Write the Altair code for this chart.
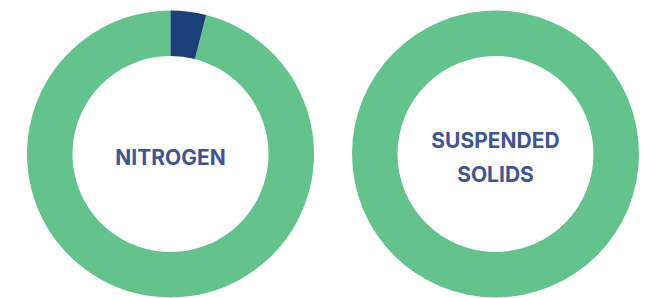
import altair as alt
import pandas as pd

# Data
categories = ["Remaining", "Removed"]
nitrogen_values = [96, 4]
solids_values = [100, 0]
labels = ["NITROGEN", ["SUSPENDED", "SOLIDS"]]

GREEN = "#64c28c"
BLUE = "#1b3f78"
TEXT = "#3f5591"

def donut(values, label, width, cx, ty):
    df = pd.DataFrame({"category": categories, "value": values,
                       "order": [1, 0]})
    arcs = alt.Chart(df).mark_arc(innerRadius=98, outerRadius=143.5, stroke=None).encode(
        theta=alt.Theta("value:Q", stack=True),
        order=alt.Order("order:Q"),
        color=alt.Color("category:N",
                        scale=alt.Scale(domain=categories, range=[GREEN, BLUE]),
                        legend=None),
        x=alt.value(cx),
        y=alt.value(146),
    )
    text = alt.Chart(pd.DataFrame({"t": [label]})).mark_text(
        font="Inter", fontWeight="bold", fontSize=21, color=TEXT,
        lineHeight=34, align="center", baseline="middle",
    ).encode(
        text="t",
        x=alt.value(cx),
        y=alt.value(ty),
    )
    return alt.layer(arcs, text).properties(width=width, height=280)

chart = alt.hconcat(
    donut(nitrogen_values, labels[0], 325, 162.5, 151),
    donut(solids_values, labels[1], 308, 162.5, 134),
    spacing=0,
).properties(padding=0).configure_view(stroke=None)

chart.save("out.html", embed_options={"renderer": "svg", "actions": False})
